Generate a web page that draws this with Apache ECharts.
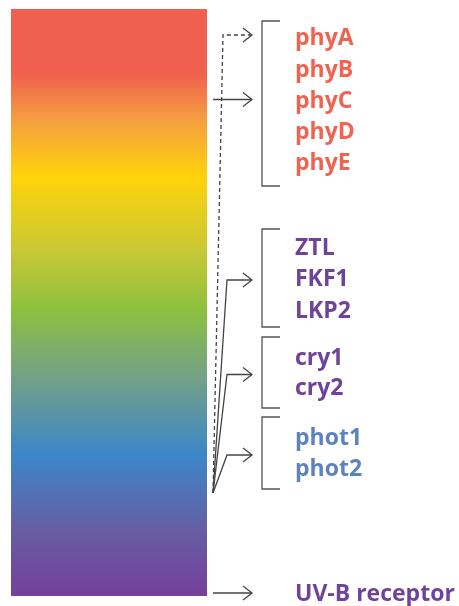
<!DOCTYPE html>
<html><head><meta charset="utf-8">
<script src="https://cdn.jsdelivr.net/npm/echarts@6/dist/echarts.min.js"></script>
<style>html,body{margin:0;padding:0;background:#fff}#c{width:459px;height:606px}</style>
</head><body><div id="c"></div>
<script>
// ---- data ----
const phyReceptors = ['phyA','phyB','phyC','phyD','phyE'];
const ztlReceptors = ['ZTL','FKF1','LKP2'];
const cryReceptors = ['cry1','cry2'];
const photReceptors = ['phot1','phot2'];
const uvbReceptors = ['UV-B receptor'];
const groupColors = ['#F06350','#70439A','#70439A','#5C83BF','#70439A'];
const spectrumColors = ['#F0604E','#F0604E','#F5A040','#FFD30A','#C9C834','#8DC03F','#72A08A','#3C86C8','#675DA2','#74409A'];
const spectrumStops  = [0, 0.11, 0.19, 0.286, 0.41, 0.513, 0.632, 0.76, 0.89, 1];

// ---- layout ----
const groups = [phyReceptors, ztlReceptors, cryReceptors, photReceptors, uvbReceptors];
const rowY = [[37,69,100,131,162],[247,278,310],[357,387],[437,468],[593]];
const bracketPad = [[16,24],[18,17],[20,21],[20,21],null];
const rect = {x0:11, y0:9, x1:207, y1:596};
const origin = [213, 493];
const textX = 295, textDY = 1.5, brX0 = 262, brX1 = 280, tipX = 252, elbowX = 227;

const paths = []; // {pts, dashed, bracket}
function arrowHead(y){ return {pts:[[tipX-9,y-7],[tipX,y],[tipX-9,y+7]]}; }
groups.forEach((g,gi)=>{
  const ys = rowY[gi];
  const top = ys[0], bot = ys[ys.length-1];
  if (bracketPad[gi]) {
    paths.push({pts:[[brX1, top-bracketPad[gi][0]],[brX0, top-bracketPad[gi][0]],[brX0, bot+bracketPad[gi][1]],[brX1, bot+bracketPad[gi][1]]], bracket:true});
  }
});
const phyMid = (rowY[0][0]+rowY[0][4])/2;
paths.push({pts:[[rect.x1+6, phyMid],[tipX, phyMid]]}); paths.push(arrowHead(phyMid));
const dashY = rowY[0][0]-2;
paths.push({pts:[origin,[elbowX-4, dashY],[tipX, dashY]], dashed:true}); paths.push(arrowHead(dashY));
[1,2,3].forEach(gi=>{
  const ys = rowY[gi];
  const y = (ys[0]+ys[ys.length-1])/2 + (gi===1?1.5:2.5);
  paths.push({pts:[origin,[elbowX, y],[tipX, y]]}); paths.push(arrowHead(y));
});
const uvY = rowY[4][0];
paths.push({pts:[[rect.x1+6, uvY],[tipX, uvY]]}); paths.push(arrowHead(uvY));

const labels = [];
groups.forEach((g,gi)=>g.forEach((n,i)=>labels.push({name:n, y:rowY[gi][i], color:groupColors[gi]})));

const chart = echarts.init(document.getElementById('c'), null, {renderer:'canvas'});
chart.setOption({
  animation:false,
  grid:{left:0,right:0,top:0,bottom:0},
  xAxis:{type:'value',min:0,max:459,show:false},
  yAxis:{type:'value',min:0,max:606,inverse:true,show:false},
  series:[
    {type:'custom', data:[[0]], renderItem:(p,api)=>{
      const a = api.coord([rect.x0, rect.y0]), b = api.coord([rect.x1, rect.y1]);
      return {type:'rect', shape:{x:a[0],y:a[1],width:b[0]-a[0],height:b[1]-a[1]},
        style:{fill:new echarts.graphic.LinearGradient(0,0,0,1, spectrumStops.map((o,i)=>({offset:o,color:spectrumColors[i]})))}};
    }},
    {type:'custom', data:paths.map((p,i)=>[i]), renderItem:(p,api)=>{
      const d = paths[p.dataIndex];
      return {type:'polyline', shape:{points:d.pts.map(q=>api.coord(q))},
        style:{fill:null, stroke:d.bracket?'#555':'#444', lineWidth:1.3, lineDash:d.dashed?[4,3]:null}};
    }},
    {type:'custom', data:labels.map((l,i)=>[i]), renderItem:(p,api)=>{
      const l = labels[p.dataIndex]; const c = api.coord([textX, l.y + textDY]);
      return {type:'text', x:c[0], y:c[1], style:{text:l.name, fill:l.color, font:'bold 23px "Open Sans", sans-serif', textVerticalAlign:'middle', textAlign:'left'}};
    }}
  ]
});
</script></body></html>
